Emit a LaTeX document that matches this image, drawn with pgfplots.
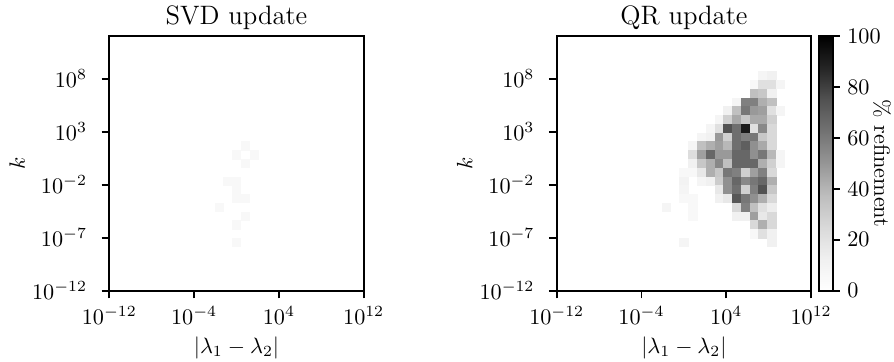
\documentclass[border=0pt]{standalone}
\usepackage{pgfplots}
\usepackage{pgfplotstable}
\pgfplotsset{compat=1.18}

% cells of the 29x29 log-log histogram: centre (log10) and % refinement
\pgfplotstableread{
x y c
0.828 1.655 6
0.000 0.828 6
1.655 0.828 6
0.828 0.000 6
-0.828 -1.655 6
0.000 -1.655 6
0.000 -2.483 6
0.000 -3.310 6
0.828 -3.310 6
-1.655 -4.138 6
0.828 -4.966 6
0.000 -5.793 6
0.000 -7.448 6
}\svddata

\pgfplotstableread{
x y c
7.448 8.276 8
8.276 8.276 12
6.621 7.448 6
7.448 7.448 21
8.276 7.448 21
9.103 7.448 8
6.621 6.621 36
7.448 6.621 33
8.276 6.621 12
4.966 5.793 8
5.793 5.793 58
6.621 5.793 58
7.448 5.793 42
8.276 5.793 36
4.138 4.966 12
4.966 4.966 36
5.793 4.966 61
6.621 4.966 49
7.448 4.966 47
8.276 4.966 21
9.103 4.966 8
3.310 4.138 8
4.138 4.138 29
4.966 4.138 44
5.793 4.138 33
6.621 4.138 44
7.448 4.138 44
8.276 4.138 29
2.483 3.310 8
3.310 3.310 21
4.138 3.310 75
4.966 3.310 64
5.793 3.310 91
6.621 3.310 21
7.448 3.310 55
8.276 3.310 25
1.655 2.483 8
2.483 2.483 12
3.310 2.483 49
4.138 2.483 29
4.966 2.483 64
5.793 2.483 58
6.621 2.483 61
7.448 2.483 33
8.276 2.483 25
0.828 1.655 8
1.655 1.655 36
2.483 1.655 42
3.310 1.655 47
4.138 1.655 39
4.966 1.655 64
5.793 1.655 70
6.621 1.655 52
7.448 1.655 44
8.276 1.655 25
0.828 0.828 23
1.655 0.828 47
2.483 0.828 67
3.310 0.828 49
4.138 0.828 49
4.966 0.828 67
5.793 0.828 67
6.621 0.828 52
7.448 0.828 61
8.276 0.828 39
9.103 0.828 8
0.828 0.000 12
1.655 0.000 33
2.483 0.000 42
3.310 0.000 55
4.138 0.000 36
4.966 0.000 67
5.793 0.000 67
6.621 0.000 67
7.448 0.000 42
8.276 0.000 29
9.103 0.000 8
0.000 -0.828 6
0.828 -0.828 6
1.655 -0.828 17
2.483 -0.828 42
3.310 -0.828 33
4.138 -0.828 61
4.966 -0.828 58
5.793 -0.828 29
6.621 -0.828 47
7.448 -0.828 58
8.276 -0.828 25
0.000 -1.655 10
1.655 -1.655 8
2.483 -1.655 12
3.310 -1.655 31
4.138 -1.655 52
4.966 -1.655 67
5.793 -1.655 55
6.621 -1.655 61
7.448 -1.655 67
8.276 -1.655 42
0.000 -2.483 8
3.310 -2.483 17
4.138 -2.483 52
4.966 -2.483 64
5.793 -2.483 29
6.621 -2.483 58
7.448 -2.483 75
8.276 -2.483 33
0.000 -3.310 6
0.828 -3.310 6
3.310 -3.310 12
4.138 -3.310 17
4.966 -3.310 73
5.793 -3.310 61
6.621 -3.310 52
7.448 -3.310 42
8.276 -3.310 25
-1.655 -4.138 8
0.828 -4.138 6
4.966 -4.138 25
5.793 -4.138 58
6.621 -4.138 36
7.448 -4.138 21
8.276 -4.138 14
0.828 -4.966 6
4.966 -4.966 12
5.793 -4.966 12
6.621 -4.966 47
7.448 -4.966 17
8.276 -4.966 25
6.621 -5.793 25
7.448 -5.793 42
8.276 -5.793 25
6.621 -6.621 6
7.448 -6.621 21
8.276 -6.621 12
0.000 -7.448 8
8.276 -7.448 12
}\qrdata

\pgfplotsset{
  colormap={greys}{rgb255(0cm)=(255,255,255); rgb255(1cm)=(240,240,240);
    rgb255(2cm)=(217,217,217); rgb255(3cm)=(189,189,189);
    rgb255(4cm)=(150,150,150); rgb255(5cm)=(115,115,115);
    rgb255(6cm)=(82,82,82); rgb255(7cm)=(37,37,37); rgb255(8cm)=(0,0,0)},
  hmap/.style={
    scale only axis, width=114.6pt, height=114.6pt,
    xmin=-12, xmax=12, ymin=-12, ymax=12,
    xtick={-12,-4,4,12},
    xticklabels={$10^{-12}$,$10^{-4}$,$10^{4}$,$10^{12}$},
    ytick={-12,-7,-2,3,8},
    yticklabels={$10^{-12}$,$10^{-7}$,$10^{-2}$,$10^{3}$,$10^{8}$},
    tick align=outside, xtick pos=left, ytick pos=left,
    major tick length=3.5pt, minor tick num=0,
    yticklabel style={xshift=-3pt},
    axis line style={line width=0.8pt},
    tick style={line width=0.8pt, black},
    colormap name=greys,
    point meta min=0, point meta max=100,
    every axis title/.style={at={(0.5,1)}, anchor=base, yshift=5.4pt, font=\large},
    xlabel={$|\lambda_1-\lambda_2|$}, ylabel={$k$},
    xlabel style={at={(axis description cs:0.5,0)}, anchor=base, yshift=-28.2pt},
    ylabel style={at={(axis description cs:-0.362,0.5)}, anchor=center},
  },
}

\begin{document}
\begin{tikzpicture}
\useasboundingbox (0,0) rectangle (402.7pt,163.06pt);

\begin{axis}[hmap, at={(49.23pt,32.12pt)}, anchor=south west,
  title={SVD update}]
\addplot[scatter, only marks, mark=square*, mark size=1.88pt,
  scatter/use mapped color={draw=mapped color, fill=mapped color},
  mark options={line width=0.25pt}, point meta=explicit]
  table[x=x, y=y, meta=c] {\svddata};
\end{axis}

\begin{axis}[hmap, at={(250.77pt,32.12pt)}, anchor=south west,
  title={QR update}]
\addplot[scatter, only marks, mark=square*, mark size=1.88pt,
  scatter/use mapped color={draw=mapped color, fill=mapped color},
  mark options={line width=0.25pt}, point meta=explicit]
  table[x=x, y=y, meta=c] {\qrdata};
\end{axis}

\pgfplotscolorbardrawstandalone[
  colormap name=greys,
  point meta min=0, point meta max=100,
  colorbar shift/.style={},
  colorbar style={
    at={(368.97pt,32.12pt)}, anchor=south west,
    scale only axis, width=6.2pt, height=114.6pt,
    ytick={0,20,40,60,80,100}, xtick=\empty,
    ytick pos=right, yticklabel pos=right,
    tick align=outside, major tick length=3pt,
    axis line style={line width=0.8pt},
    tick style={line width=0.8pt, black},
    ylabel={\% refinement},
    ylabel style={at={(axis description cs:4.58,0.5)}, anchor=center, rotate=180},
  }]
\end{tikzpicture}
\end{document}
